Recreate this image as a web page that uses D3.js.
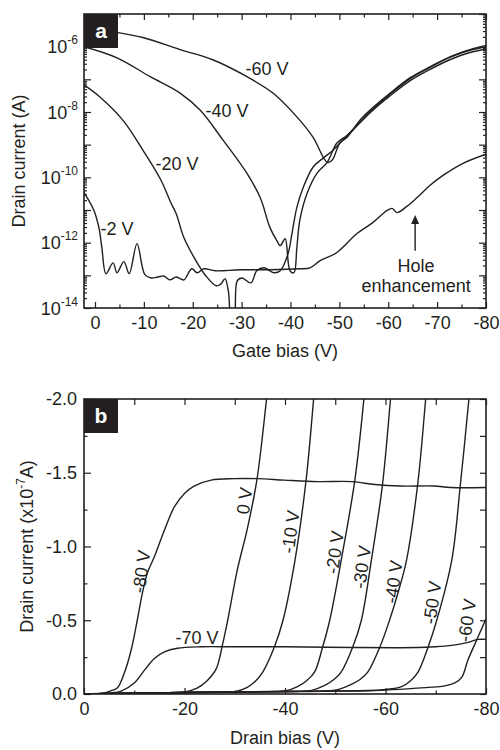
<!DOCTYPE html>
<html>
<head>
<meta charset="utf-8">
<script src="https://cdn.jsdelivr.net/npm/d3@7"></script>
<style>
body { margin: 0; background: #fff; }
</style>
</head>
<body>
<div id="chart"></div>
<script>
// ---- panel a : transfer curves, [gate bias V, log10 drain current A]
var transM2 = [[2.25,-10.46],[0.2,-11.02],[-0.8,-11.54],[-1.4,-12.15],[-2.25,-12.95],[-3.7,-12.62],[-4.5,-12.92],
  [-5.9,-12.58],[-7.0,-12.95],[-8.6,-12.03],[-10.2,-12.98],[-11.5,-13.08],[-12.9,-13.05],[-14.1,-13.02],[-15.3,-13.14],
  [-16.6,-13.05],[-17.4,-13.1],[-18.2,-13.14],[-19.8,-12.8],[-20.9,-12.92],[-22.3,-12.8],[-24.6,-12.86],[-29.7,-12.83],
  [-35.8,-12.83],[-41.9,-12.8],[-44.0,-12.77],[-46.0,-12.56],[-49.5,-12.3],[-53.6,-11.72],[-56.9,-11.38],[-59.7,-11.02],
  [-60.8,-10.95],[-61.8,-11.08],[-63.8,-10.89],[-65.9,-10.62],[-68.5,-10.25],[-71.2,-9.94],[-75.3,-9.57],[-80,-9.29]];
var transM20 = [[2.25,-7.17],[-1.0,-7.54],[-5.7,-8.25],[-9.8,-9.17],[-13.5,-10.09],[-15.5,-10.77],[-16.6,-11.11],
  [-18.2,-11.85],[-20.3,-12.46],[-22.7,-13.02],[-24.8,-13.32],[-25.8,-13.26],[-26.6,-13.1],[-27.3,-13.5],[-27.9,-14.4],
  [-28.5,-14.3],[-29.1,-13.17],[-30.1,-13.08],[-31.9,-13.23],[-33.1,-12.86],[-34.6,-12.77],[-36.6,-12.92],[-37.9,-12.86],
  [-39.5,-12.34],[-40.3,-11.72],[-41.3,-10.92],[-42.6,-10.31],[-44.6,-9.69],[-46.6,-9.42],[-48.7,-9.17],[-50.7,-8.86],
  [-52.8,-8.55],[-56.3,-8.02],[-60.4,-7.5],[-64.5,-7.04],[-68.5,-6.7],[-72.6,-6.4],[-76.7,-6.18],[-80,-6.08]];
var transM40 = [[2.25,-6.0],[-4.5,-6.34],[-11.3,-6.92],[-17.4,-7.42],[-21.5,-7.94],[-26.2,-8.86],[-31.1,-9.88],
  [-33.8,-10.62],[-35.8,-11.54],[-37.2,-11.94],[-37.9,-12.09],[-38.9,-11.88],[-39.9,-12.86],[-40.7,-12.92],[-41.3,-12.15],
  [-41.9,-11.32],[-43.4,-10.49],[-45.4,-9.88],[-47.5,-9.54],[-49.5,-8.95],[-51.6,-8.71],[-54.2,-8.31],[-56.3,-7.98],
  [-60.4,-7.45],[-64.5,-6.98],[-68.5,-6.64],[-72.6,-6.33],[-76.7,-6.11],[-80,-6.01]];
var transM60 = [[2.25,-5.45],[-4.7,-5.57],[-9.8,-5.72],[-17.4,-6.09],[-24.1,-6.4],[-31.1,-6.92],[-36.4,-7.42],
  [-41.3,-8.15],[-44.6,-8.77],[-47.5,-9.54],[-48.5,-9.48],[-50.1,-8.95],[-51.6,-8.77],[-54.2,-8.25],[-56.3,-7.94],
  [-60.4,-7.42],[-64.5,-6.95],[-68.5,-6.62],[-72.6,-6.31],[-76.7,-6.09],[-80,-5.96]];
var transSeries = [transM2, transM20, transM40, transM60];
var transLabels = [["-2 V",-4.5,-11.57],["-20 V",-16.8,-9.57],["-40 V",-27.0,-7.96],["-60 V",-35.2,-6.68]];
var gateTicks = [0,-10,-20,-30,-40,-50,-60,-70,-80];
var gateMinor = [-5,-15,-25,-35,-45,-55,-65,-75];
var decadeLabels = [-14,-12,-10,-8,-6];
var decades = [-14,-13,-12,-11,-10,-9,-8,-7,-6,-5];

// ---- panel b : output curves, [drain bias V, drain current x1e-7 A]
var out0   = [[0,0],[-8,-0.004],[-16,-0.008],[-20,-0.014],[-22.5,-0.04],[-24.5,-0.09],[-26.3,-0.17],[-27.6,-0.34],
  [-28.6,-0.5],[-30.5,-0.84],[-32.5,-1.12],[-34.4,-1.45],[-36.3,-1.99],[-37.3,-2.3]];
var outM10 = [[0,0],[-10,-0.005],[-20,-0.01],[-28,-0.012],[-30,-0.016],[-32.5,-0.045],[-34.2,-0.09],[-35.6,-0.15],
  [-37.9,-0.32],[-39.6,-0.5],[-42.0,-0.91],[-44.2,-1.45],[-45.7,-2.0],[-46.5,-2.3]];
var outM20 = [[0,0],[-10,-0.005],[-20,-0.01],[-30,-0.014],[-38,-0.016],[-40,-0.02],[-42.5,-0.05],[-44.3,-0.09],
  [-45.9,-0.15],[-47.5,-0.32],[-48.9,-0.5],[-51.2,-0.91],[-53.9,-1.45],[-55.7,-2.0],[-56.5,-2.3]];
var outM30 = [[0,0],[-10,-0.005],[-20,-0.01],[-30,-0.014],[-40,-0.017],[-43,-0.018],[-45.3,-0.025],[-48,-0.06],
  [-49.8,-0.1],[-51.2,-0.15],[-53.5,-0.32],[-55.2,-0.5],[-57.2,-0.91],[-59.4,-1.42],[-61.0,-2.0],[-61.8,-2.3]];
var outM40 = [[0,0],[-10,-0.005],[-20,-0.01],[-30,-0.014],[-40,-0.017],[-48,-0.02],[-50.5,-0.03],[-53.5,-0.07],
  [-55,-0.1],[-56.5,-0.15],[-58.9,-0.32],[-60.8,-0.5],[-62.6,-0.7],[-64.2,-0.91],[-66.4,-1.42],[-68.0,-2.0],[-68.8,-2.3]];
var outM50 = [[0,0],[-10,-0.005],[-20,-0.01],[-30,-0.014],[-40,-0.017],[-50,-0.02],[-56,-0.022],[-59.9,-0.03],
  [-63.2,-0.05],[-65,-0.09],[-66.5,-0.15],[-68.5,-0.32],[-70.2,-0.5],[-73.2,-0.91],[-74.9,-1.42],[-76.6,-2.0],[-77.4,-2.3]];
var outM60 = [[0,0],[-10,-0.005],[-20,-0.01],[-30,-0.014],[-40,-0.017],[-50,-0.02],[-60,-0.027],[-66.4,-0.04],
  [-71.8,-0.055],[-73.8,-0.075],[-75.2,-0.115],[-76.4,-0.23],[-77.8,-0.34],[-80,-0.51]];
var outM70 = [[0,0],[-5.2,-0.007],[-7.4,-0.02],[-10,-0.075],[-12,-0.16],[-14,-0.24],[-16,-0.285],[-18.6,-0.31],
  [-23.3,-0.32],[-29.9,-0.32],[-39.9,-0.32],[-53.3,-0.315],[-66.4,-0.315],[-69.8,-0.32],[-73.2,-0.33],[-76.4,-0.35],
  [-78.4,-0.37],[-80,-0.37]];
var outM80 = [[0,0],[-2,0],[-4,-0.007],[-5.2,-0.02],[-6.6,-0.04],[-8.0,-0.14],[-9.4,-0.3],[-10.6,-0.5],[-11.6,-0.68],
  [-12.6,-0.82],[-14.0,-0.93],[-16.0,-1.11],[-18.0,-1.27],[-20.0,-1.36],[-21.9,-1.41],[-25.3,-1.45],[-29.9,-1.46],
  [-34.5,-1.46],[-39.9,-1.45],[-46.5,-1.44],[-53.3,-1.44],[-57.9,-1.42],[-63.0,-1.41],[-69.6,-1.41],[-73.0,-1.4],[-80,-1.4]];
var outSeries = [out0, outM10, outM20, outM30, outM40, outM50, outM60, outM70, outM80];
var outLabels = [["0 V",-31.9,-1.31],["-10 V",-41.1,-1.1],["-20 V",-49.9,-0.96],["-30 V",-55.3,-0.86],
  ["-40 V",-61.6,-0.76],["-50 V",-69.3,-0.62],["-60 V",-76.2,-0.5],["-80 V",-11.4,-0.83]];
var drainTicks = [0,-20,-40,-60,-80];
var drainMinor = [-10,-30,-50,-70];
var currentTicks = [0,-0.5,-1.0,-1.5,-2.0];
var currentMinor = [-0.25,-0.75,-1.25,-1.75];

var ink = "#231f20";
var font = "'Liberation Sans', Arial, Helvetica, sans-serif";
var svg = d3.select("#chart").append("svg").attr("width", 500).attr("height", 750);

function fmtNeg(d, digits) {
  var s = Math.abs(d).toFixed(digits);
  return (d < 0 ? "-" : "") + s;
}

function addAxis(axis, tx, ty) {
  var a = svg.append("g").attr("transform", "translate(" + tx + "," + ty + ")").call(axis);
  a.select(".domain").remove();
  a.selectAll("line").attr("stroke", ink).attr("stroke-width", 1.2);
  a.selectAll("text").attr("font-size", 18).attr("font-family", font).attr("fill", ink);
  return a;
}

function frame(box) {
  svg.append("rect").attr("x", box.left).attr("y", box.top)
    .attr("width", box.right - box.left).attr("height", box.bottom - box.top)
    .attr("fill", "none").attr("stroke", ink).attr("stroke-width", 1.6);
}

function badge(box, letter) {
  svg.append("rect").attr("x", box.left).attr("y", box.top).attr("width", 34).attr("height", 34).attr("fill", ink);
  svg.append("text").attr("x", box.left + 17).attr("y", box.top + 24).attr("text-anchor", "middle")
    .attr("font-family", font).attr("font-weight", "bold").attr("font-size", 21).attr("fill", "#fff").text(letter);
}

function clip(id, box) {
  svg.append("clipPath").attr("id", id).append("rect")
    .attr("x", box.left).attr("y", box.top).attr("width", box.right - box.left).attr("height", box.bottom - box.top);
}

// ================= panel a =================
var boxA = {left: 84, right: 486, top: 14, bottom: 308};
var xA = d3.scaleLinear().domain([2.25, -80]).range([boxA.left, boxA.right]);
var yA = d3.scaleLog().domain([1e-14, 1e-5]).range([boxA.bottom, boxA.top]);
var minorLog = [];
decades.slice(0, -1).forEach(function(e) {
  for (var k = 2; k < 10; k++) minorLog.push(k * Math.pow(10, e));
});
var decadeVals = decades.map(function(e) { return Math.pow(10, e); });

clip("clipA", boxA);
var lineA = d3.line()
  .x(function(d) { return xA(d[0]); })
  .y(function(d) { return yA(Math.pow(10, d[1])); })
  .curve(d3.curveCatmullRom.alpha(0.5));
svg.append("g").attr("clip-path", "url(#clipA)").selectAll("path")
  .data(transSeries).enter().append("path")
  .attr("d", lineA).attr("fill", "none").attr("stroke", ink).attr("stroke-width", 1.4);

addAxis(d3.axisBottom(xA).tickValues(gateTicks).tickSize(-6).tickPadding(8)
  .tickFormat(function(d) { return fmtNeg(d, 0); }), 0, boxA.bottom);
addAxis(d3.axisBottom(xA).tickValues(gateMinor).tickSize(-3.5).tickFormat(""), 0, boxA.bottom);
addAxis(d3.axisTop(xA).tickValues(gateTicks).tickSize(-6).tickFormat(""), 0, boxA.top);
addAxis(d3.axisTop(xA).tickValues(gateMinor).tickSize(-3.5).tickFormat(""), 0, boxA.top);
addAxis(d3.axisLeft(yA).tickValues(decadeVals).tickSize(-7).tickFormat(""), boxA.left, 0);
addAxis(d3.axisLeft(yA).tickValues(minorLog).tickSize(-3).tickFormat(""), boxA.left, 0);
addAxis(d3.axisRight(yA).tickValues(decadeVals).tickSize(-7).tickFormat(""), boxA.right, 0);
addAxis(d3.axisRight(yA).tickValues(minorLog).tickSize(-3).tickFormat(""), boxA.right, 0);

var expLab = svg.append("g").selectAll("text").data(decadeLabels).enter().append("text")
  .attr("x", boxA.left - 6)
  .attr("y", function(e) { return yA(Math.pow(10, e)) + 6.5; })
  .attr("text-anchor", "end").attr("font-family", font).attr("font-size", 18).attr("fill", ink);
expLab.append("tspan").text("10");
expLab.append("tspan").attr("dy", -9).attr("font-size", 12).text(function(e) { return String(e); });

frame(boxA);
badge(boxA, "a");

svg.append("g").selectAll("text").data(transLabels).enter().append("text")
  .attr("x", function(d) { return xA(d[1]); })
  .attr("y", function(d) { return yA(Math.pow(10, d[2])); })
  .attr("dy", "0.35em").attr("text-anchor", "middle")
  .attr("font-family", font).attr("font-size", 18).attr("fill", ink)
  .text(function(d) { return d[0]; });

// hole enhancement arrow
var arrX = xA(-65.5), arrTip = yA(Math.pow(10, -11.15)), arrBase = yA(Math.pow(10, -12.25));
svg.append("line").attr("x1", arrX).attr("x2", arrX).attr("y1", arrTip + 6).attr("y2", arrBase)
  .attr("stroke", ink).attr("stroke-width", 1.4);
svg.append("path").attr("d", "M" + arrX + "," + arrTip + "l-4,9l8,0z").attr("fill", ink);
svg.append("text").attr("x", arrX + 1).attr("y", arrBase + 21).attr("text-anchor", "middle")
  .attr("font-family", font).attr("font-size", 18).attr("fill", ink).text("Hole");
svg.append("text").attr("x", arrX + 1).attr("y", arrBase + 41).attr("text-anchor", "middle")
  .attr("font-family", font).attr("font-size", 18).attr("fill", ink).text("enhancement");

svg.append("text").attr("x", (boxA.left + boxA.right) / 2).attr("y", 357).attr("text-anchor", "middle")
  .attr("font-family", font).attr("font-size", 18).attr("fill", ink).text("Gate bias (V)");
svg.append("text").attr("transform", "translate(25," + ((boxA.top + boxA.bottom) / 2) + ") rotate(-90)")
  .attr("text-anchor", "middle").attr("font-family", font).attr("font-size", 18).attr("fill", ink)
  .text("Drain current (A)");

// ================= panel b =================
var boxB = {left: 84, right: 486, top: 399, bottom: 694};
var xB = d3.scaleLinear().domain([0, -80]).range([boxB.left, boxB.right]);
var yB = d3.scaleLinear().domain([0, -2.0]).range([boxB.bottom, boxB.top]);

clip("clipB", boxB);
var lineB = d3.line()
  .x(function(d) { return xB(d[0]); })
  .y(function(d) { return yB(d[1]); })
  .curve(d3.curveCatmullRom.alpha(0.5));
svg.append("g").attr("clip-path", "url(#clipB)").selectAll("path")
  .data(outSeries).enter().append("path")
  .attr("d", lineB).attr("fill", "none").attr("stroke", ink).attr("stroke-width", 1.4);

addAxis(d3.axisBottom(xB).tickValues(drainTicks).tickSize(-6).tickPadding(8)
  .tickFormat(function(d) { return fmtNeg(d, 0); }), 0, boxB.bottom);
addAxis(d3.axisBottom(xB).tickValues(drainMinor).tickSize(-3.5).tickFormat(""), 0, boxB.bottom);
addAxis(d3.axisTop(xB).tickValues(drainTicks.concat(drainMinor)).tickSize(-6).tickFormat(""), 0, boxB.top);
addAxis(d3.axisLeft(yB).tickValues(currentTicks).tickSize(-7).tickPadding(7)
  .tickFormat(function(d) { return fmtNeg(d, 1); }), boxB.left, 0);
addAxis(d3.axisLeft(yB).tickValues(currentMinor).tickSize(-3.5).tickFormat(""), boxB.left, 0);
addAxis(d3.axisRight(yB).tickValues(currentTicks.concat(currentMinor)).tickSize(-6).tickFormat(""), boxB.right, 0);

frame(boxB);
badge(boxB, "b");

svg.append("g").selectAll("text").data(outLabels).enter().append("text")
  .attr("transform", function(d) { return "translate(" + xB(d[1]) + "," + yB(d[2]) + ") rotate(-82)"; })
  .attr("dy", "0.35em").attr("text-anchor", "middle")
  .attr("font-family", font).attr("font-size", 18).attr("fill", ink)
  .text(function(d) { return d[0]; });
svg.append("text").attr("x", xB(-22.5)).attr("y", yB(-0.38)).attr("dy", "0.35em").attr("text-anchor", "middle")
  .attr("font-family", font).attr("font-size", 18).attr("fill", ink).text("-70 V");

svg.append("text").attr("x", (boxB.left + boxB.right) / 2).attr("y", 744).attr("text-anchor", "middle")
  .attr("font-family", font).attr("font-size", 18).attr("fill", ink).text("Drain bias (V)");
var yt = svg.append("text").attr("transform", "translate(33," + ((boxB.top + boxB.bottom) / 2) + ") rotate(-90)")
  .attr("text-anchor", "middle").attr("font-family", font).attr("font-size", 18).attr("fill", ink);
yt.append("tspan").text("Drain current (x10");
yt.append("tspan").attr("dy", -8).attr("font-size", 12).text("-7");
yt.append("tspan").attr("dy", 8).text("A)");
</script>
</body>
</html>
